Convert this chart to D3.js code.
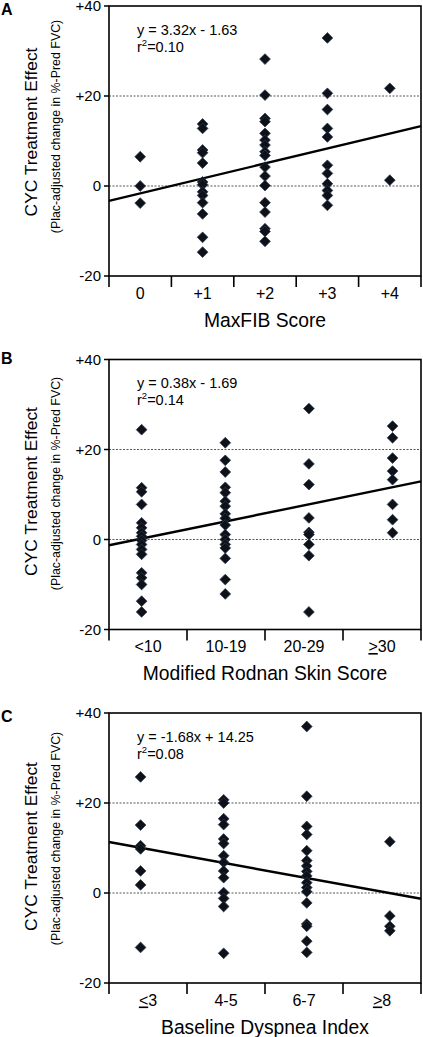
<!DOCTYPE html>
<html>
<head>
<meta charset="utf-8">
<script src="https://cdn.jsdelivr.net/npm/d3@7/dist/d3.min.js"></script>
<style>
  html, body { margin: 0; padding: 0; background: #fff; }
  svg { display: block; }
</style>
</head>
<body>
<svg id="chart" width="423" height="1037"></svg>
<script>
// ---------------- DATA ----------------
const yTickValues = [-20, 0, 20, 40];
const yTickLabels = ["-20", "0", "+20", "+40"];
const gridValues = [0, 20];
const yTitle = "CYC Treatment Effect";
const ySubTitle = "(Plac-adjusted change in %-Pred FVC)";

// Panel A
const aLetter = "A";
const aTitle = "MaxFIB Score";
const aCategories = ["0", "+1", "+2", "+3", "+4"];
const aUnderline = [false, false, false, false, false];
const aPointX = [0, 1, 2, 3, 4];
const aXDomain = [-0.5, 4.5];
const aValues = [
  [6.5, 0, -3.8],
  [13.8, 12.8, 8.0, 7.4, 5.1, 0.9, 0.3, -1.3, -2.1, -3.7, -6.2, -11.4, -14.7],
  [28.2, 20.2, 15.0, 14.3, 11.7, 10.2, 9.1, 7.6, 6.8, 4.2, 2.2, 0.1, -3.7, -5.8, -9.5, -10.1, -12.3],
  [32.9, 20.6, 17.0, 12.8, 10.9, 4.6, 2.8, 0.5, -1.0, -2.1, -4.3],
  [21.7, 1.3]
];
const aSlope = 3.32, aIntercept = -1.63;
const aEquation = "y = 3.32x - 1.63";
const aR2 = "=0.10";

// Panel B
const bLetter = "B";
const bTitle = "Modified Rodnan Skin Score";
const bCategories = ["<10", "10-19", "20-29", ">30"];
const bUnderline = [false, false, false, true];
const bPointX = [5, 15, 25, 35];
const bXDomain = [1.1, 38.4];
const bValues = [
  [24.4, 11.5, 10.6, 7.8, 3.7, 2.6, 1.5, 0.7, -0.2, -1.1, -2.2, -3.3, -7.4, -8.5, -10.0, -13.7, -16.1],
  [21.5, 17.6, 15.0, 11.6, 10.4, 8.5, 7.4, 5.7, 4.7, 3.2, 1.1, 0.0, -1.1, -1.9, -4.2, -8.9, -12.1],
  [29.1, 16.8, 12.2, 4.8, 1.6, 1.1, -1.1, -3.6, -16.1],
  [25.2, 22.6, 18.1, 15.2, 13.3, 7.8, 4.4, 1.5]
];
const bSlope = 0.38, bIntercept = -1.69;
const bEquation = "y = 0.38x - 1.69";
const bR2 = "=0.14";

// Panel C
const cLetter = "C";
const cTitle = "Baseline Dyspnea Index";
const cCategories = ["<3", "4-5", "6-7", ">8"];
const cUnderline = [true, false, false, true];
const cPointX = [2.5, 4.5, 6.5, 8.5];
const cXDomain = [1.74, 9.25];
const cValues = [
  [25.8, 15.1, 10.5, 9.8, 4.9, 1.8, -12.1],
  [20.7, 20.0, 16.5, 15.2, 12.0, 11.0, 8.3, 6.8, 4.9, 3.4, 0.1, -1.2, -3.0, -13.4],
  [37.0, 21.5, 14.8, 13.0, 9.4, 7.2, 6.0, 4.8, 3.8, 2.3, 1.2, 0.3, -2.2, -6.9, -7.4, -10.7, -13.2],
  [11.4, -5.1, -7.4, -8.4]
];
const cSlope = -1.68, cIntercept = 14.25;
const cEquation = "y = -1.68x + 14.25";
const cR2 = "=0.08";

// ---------------- LAYOUT ----------------
const FONT = "'Liberation Sans', Arial, Helvetica, sans-serif";
const plotLeft = 109, plotRight = 421, plotH = 270;

const panels = [
  { letter: aLetter, title: aTitle, cats: aCategories, ul: aUnderline, px: aPointX, dom: aXDomain, vals: aValues,
    slope: aSlope, intercept: aIntercept, eq: aEquation, r2: aR2,
    top: 6, letterY: 15, titleOff: 126, subOff: 120.5 },
  { letter: bLetter, title: bTitle, cats: bCategories, ul: bUnderline, px: bPointX, dom: bXDomain, vals: bValues,
    slope: bSlope, intercept: bIntercept, eq: bEquation, r2: bR2,
    top: 359.5, letterY: 364, titleOff: 132, subOff: 124 },
  { letter: cLetter, title: cTitle, cats: cCategories, ul: cUnderline, px: cPointX, dom: cXDomain, vals: cValues,
    slope: cSlope, intercept: cIntercept, eq: cEquation, r2: cR2,
    top: 713, letterY: 722, titleOff: 133.5, subOff: 125.5 }
];

const svg = d3.select("#chart");

panels.forEach(p => {
  const top = p.top, bottom = top + plotH;
  const y = d3.scaleLinear().domain([-20, 40]).range([bottom, top]);
  const x = d3.scaleLinear().domain(p.dom).range([plotLeft, plotRight]);
  const band = d3.scaleBand().domain(p.cats).range([plotLeft, plotRight]).paddingInner(0).paddingOuter(0);
  const g = svg.append("g");

  // gridlines (dotted)
  g.selectAll(".grid").data(gridValues).enter().append("line")
    .attr("x1", plotLeft).attr("x2", plotRight)
    .attr("y1", d => y(d)).attr("y2", d => y(d))
    .attr("stroke", "#444").attr("stroke-width", 0.9)
    .attr("stroke-dasharray", "2,1.5");

  // regression line
  g.append("line")
    .attr("x1", x(p.dom[0])).attr("x2", x(p.dom[1]))
    .attr("y1", y(p.slope * p.dom[0] + p.intercept))
    .attr("y2", y(p.slope * p.dom[1] + p.intercept))
    .attr("stroke", "#000").attr("stroke-width", 2.4);

  // points
  const pts = [];
  p.vals.forEach((arr, i) => arr.forEach(v => pts.push({ x: p.px[i], v })));
  const sym = d3.symbol().type(d3.symbolSquare).size(58);
  g.selectAll(".pt").data(pts).enter().append("path")
    .attr("d", sym)
    .attr("transform", d => `translate(${x(d.x)},${y(d.v)}) rotate(45)`)
    .attr("fill", "#0e1118").attr("stroke", "#2a3850").attr("stroke-width", 0.7);

  // frame
  g.append("rect")
    .attr("x", plotLeft).attr("y", top)
    .attr("width", plotRight - plotLeft).attr("height", plotH)
    .attr("fill", "none").attr("stroke", "#000").attr("stroke-width", 1.6);

  // y ticks
  g.selectAll(".yt").data(yTickValues).enter().append("line")
    .attr("x1", plotLeft - 5).attr("x2", plotLeft)
    .attr("y1", d => y(d)).attr("y2", d => y(d))
    .attr("stroke", "#000").attr("stroke-width", 1.5);
  g.selectAll(".yl").data(yTickValues).enter().append("text")
    .attr("x", plotLeft - 8).attr("y", d => y(d))
    .attr("dy", "0.36em")
    .attr("text-anchor", "end")
    .attr("font-family", FONT).attr("font-size", 15)
    .text((d, i) => yTickLabels[i]);

  // x ticks at category boundaries
  const bounds = p.cats.map(c => band(c)).concat([plotRight]);
  g.selectAll(".xt").data(bounds).enter().append("line")
    .attr("x1", d => d).attr("x2", d => d)
    .attr("y1", bottom).attr("y2", bottom + 11)
    .attr("stroke", "#000").attr("stroke-width", 1.6);

  // x labels
  p.cats.forEach((c, i) => {
    const t = g.append("text")
      .attr("x", band(c) + band.bandwidth() / 2).attr("y", bottom + 22.5)
      .attr("text-anchor", "middle")
      .attr("font-family", FONT).attr("font-size", 16);
    if (p.ul[i]) {
      t.append("tspan").style("text-decoration", "underline").text(c.charAt(0));
      t.append("tspan").text(c.slice(1));
    } else {
      t.text(c);
    }
  });

  // x title
  g.append("text")
    .attr("x", (plotLeft + plotRight) / 2).attr("y", bottom + 50.5)
    .attr("text-anchor", "middle")
    .attr("font-family", FONT).attr("font-size", 19.3)
    .text(p.title);

  // y titles
  g.append("text")
    .attr("transform", `translate(37,${top + p.titleOff}) rotate(-90)`)
    .attr("text-anchor", "middle")
    .attr("font-family", FONT).attr("font-size", 17.4)
    .text(yTitle);
  g.append("text")
    .attr("transform", `translate(59.5,${top + p.subOff}) rotate(-90)`)
    .attr("text-anchor", "middle")
    .attr("font-family", FONT).attr("font-size", 12.4)
    .text(ySubTitle);

  // panel letter
  g.append("text")
    .attr("x", 1).attr("y", p.letterY)
    .attr("font-family", FONT).attr("font-size", 16).attr("font-weight", "bold")
    .text(p.letter);

  // equation
  g.append("text")
    .attr("x", 137).attr("y", top + 28.5)
    .attr("font-family", FONT).attr("font-size", 14.5)
    .text(p.eq);
  const r = g.append("text")
    .attr("x", 137).attr("y", top + 45.5)
    .attr("font-family", FONT).attr("font-size", 14.5);
  r.append("tspan").text("r");
  r.append("tspan").attr("font-size", 9.5).attr("dy", -6).text("2");
  r.append("tspan").attr("dy", 6).text(p.r2);
});
</script>
</body>
</html>
